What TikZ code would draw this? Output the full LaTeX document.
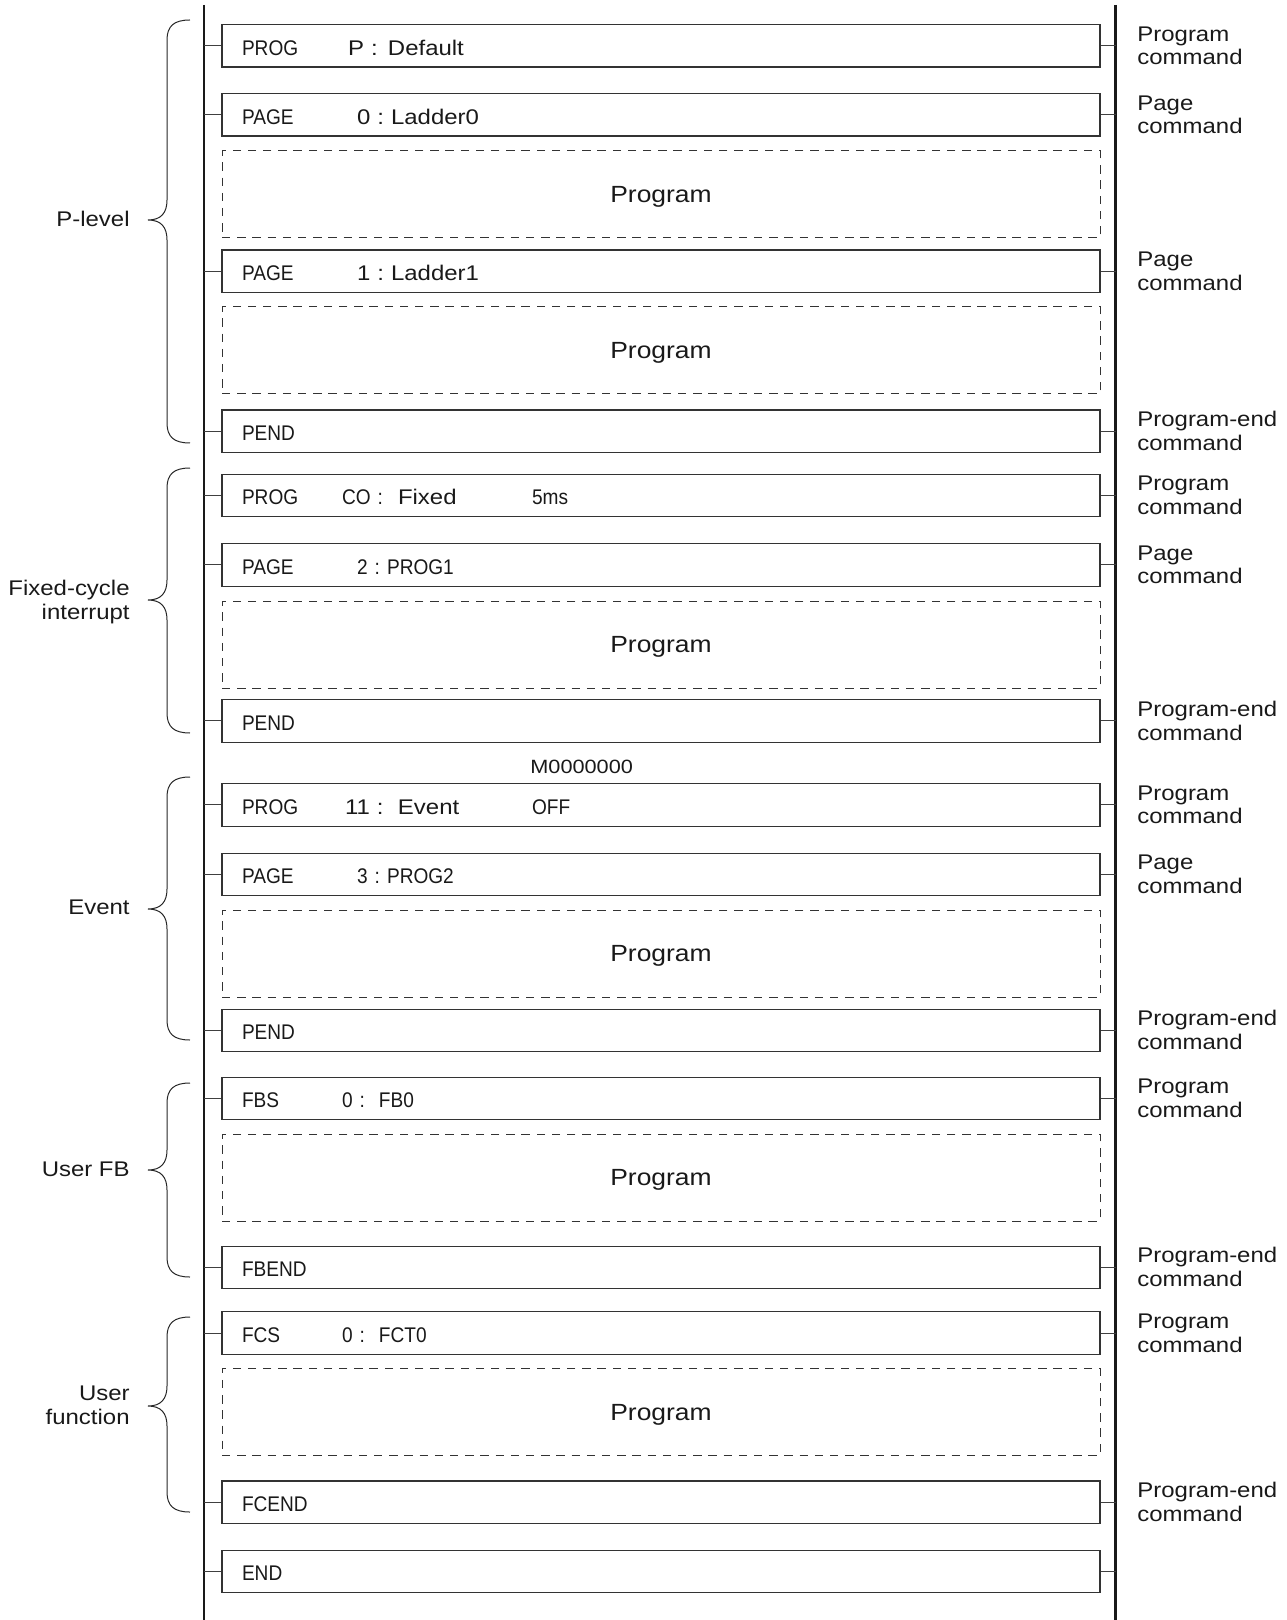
\documentclass[tikz,border=0pt]{standalone}
\usepackage{fontspec}
\setmainfont[FakeStretch=1.13]{Liberation Sans}
\newfontfamily\narrowfont[FakeStretch=0.9]{Liberation Sans}
\newcommand{\nw}[1]{{\narrowfont\fontsize{10.6}{12}\selectfont #1}}
\newcommand{\boxcol}[2]{\makebox[#1][l]{#2}}
\frenchspacing
% curly brace: top end, tip, bottom end (y in px)
\newcommand{\grpbrace}[3]{%
  \draw[bracestyle] (190,#1) .. controls (174,#1) and (167,#1+6) .. (167,#1+20)
    -- (167,#2-20) .. controls (167,#2-7) and (161,#2) .. (148,#2)
    .. controls (161,#2) and (167,#2+7) .. (167,#2+20)
    -- (167,#3-20) .. controls (167,#3-6) and (174,#3) .. (190,#3);}

\begin{document}
\begin{tikzpicture}[x=0.5pt, y=-0.5pt,
    every node/.style={font=\fontsize{10.6}{11.9}\selectfont, text=black!90},
    cmdbox/.style={draw=black!80, line width=0.55pt, text width=419pt, inner xsep=10pt,
      align=left, minimum height=21.25pt, text height=9.4pt, text depth=0pt},
    progbox/.style={draw=black!80, line width=0.5pt, dash pattern=on 4.2pt off 3.4pt,
      minimum width=439pt, minimum height=43.5pt, font=\fontsize{11.7}{14}\selectfont,
      text height=8.4pt, text depth=0pt},
    cmdlabel/.style={anchor=west, align=left, inner sep=0pt},
    grplabel/.style={anchor=east, align=right, inner sep=0pt},
    rail/.style={line width=1.3pt, black!90},
    stub/.style={line width=0.5pt, black!75},
    bracestyle/.style={line width=0.5pt, black!85}]
    \useasboundingbox (0,0) rectangle (1286,1620);

    % rails
    \draw[rail] (204,5) coordinate (railL) -- (204,1620);
    \draw[rail] (1115.5,5) coordinate (railR) -- (1115.5,1620);

    % P-level
    \node[cmdbox] (prog1) at (661,45.8) {\boxcol{53pt}{\nw{PROG}}\boxcol{20pt}{P :}Default};
    \node[cmdbox] (page0) at (661,114.8) {\boxcol{57.5pt}{\nw{PAGE}}0 : Ladder0};
    \node[progbox] (prg1) at (661,194.5) {Program};
    \node[cmdbox] (page1) at (661,271.3) {\boxcol{57.5pt}{\nw{PAGE}}1 : Ladder1};
    \node[progbox] (prg2) at (661,350.5) {Program};
    \node[cmdbox] (pend1) at (661,431.3) {\nw{PEND}};

    % fixed-cycle interrupt
    \node[cmdbox] (prog2) at (661,495.3) {\boxcol{50pt}{\nw{PROG}}\boxcol{28pt}{\nw{CO :}}\boxcol{67pt}{Fixed}\nw{5ms}};
    \node[cmdbox] (page2) at (661,564.8) {\boxcol{57.5pt}{\nw{PAGE}}\nw{2 : PROG1}};
    \node[progbox] (prg3) at (661,644.5) {Program};
    \node[cmdbox] (pend2) at (661,720.8) {\nw{PEND}};

    % event
    \node[anchor=base west, inner sep=0pt, font=\fontsize{9.6}{11}\selectfont] (evbit) at (530,773) {M0000000};
    \node[cmdbox] (prog3) at (661,804.8) {\boxcol{51.5pt}{\nw{PROG}}\boxcol{26.5pt}{11 :}\boxcol{67pt}{Event}\nw{OFF}};
    \node[cmdbox] (page3) at (661,874.3) {\boxcol{57.5pt}{\nw{PAGE}}\nw{3 : PROG2}};
    \node[progbox] (prg4) at (661,953.5) {Program};
    \node[cmdbox] (pend3) at (661,1030.3) {\nw{PEND}};

    % user FB
    \node[cmdbox] (fbs) at (661,1098.3) {\boxcol{50pt}{\nw{FBS}}\boxcol{18.5pt}{\nw{0 :}}\nw{FB0}};
    \node[progbox] (prg5) at (661,1177.5) {Program};
    \node[cmdbox] (fbend) at (661,1267.3) {\nw{FBEND}};

    % user function
    \node[cmdbox] (fcs) at (661,1333) {\boxcol{50pt}{\nw{FCS}}\boxcol{18.5pt}{\nw{0 :}}\nw{FCT0}};
    \node[progbox] (prg6) at (661,1412) {Program};
    \node[cmdbox] (fcend) at (661,1502.2) {\nw{FCEND}};
    \node[cmdbox] (endcmd) at (661,1571.3) {\nw{END}};

    % stubs to the rails
    \draw[stub] (railL |- prog1.west) -- (prog1.west) (prog1.east) -- (railR |- prog1.east);
    \draw[stub] (railL |- page0.west) -- (page0.west) (page0.east) -- (railR |- page0.east);
    \draw[stub] (railL |- page1.west) -- (page1.west) (page1.east) -- (railR |- page1.east);
    \draw[stub] (railL |- pend1.west) -- (pend1.west) (pend1.east) -- (railR |- pend1.east);
    \draw[stub] (railL |- prog2.west) -- (prog2.west) (prog2.east) -- (railR |- prog2.east);
    \draw[stub] (railL |- page2.west) -- (page2.west) (page2.east) -- (railR |- page2.east);
    \draw[stub] (railL |- pend2.west) -- (pend2.west) (pend2.east) -- (railR |- pend2.east);
    \draw[stub] (railL |- prog3.west) -- (prog3.west) (prog3.east) -- (railR |- prog3.east);
    \draw[stub] (railL |- page3.west) -- (page3.west) (page3.east) -- (railR |- page3.east);
    \draw[stub] (railL |- pend3.west) -- (pend3.west) (pend3.east) -- (railR |- pend3.east);
    \draw[stub] (railL |- fbs.west) -- (fbs.west) (fbs.east) -- (railR |- fbs.east);
    \draw[stub] (railL |- fbend.west) -- (fbend.west) (fbend.east) -- (railR |- fbend.east);
    \draw[stub] (railL |- fcs.west) -- (fcs.west) (fcs.east) -- (railR |- fcs.east);
    \draw[stub] (railL |- fcend.west) -- (fcend.west) (fcend.east) -- (railR |- fcend.east);
    \draw[stub] (railL |- endcmd.west) -- (endcmd.west) (endcmd.east) -- (railR |- endcmd.east);

    % right-hand labels
    \node[cmdlabel] (lb1) at (1137,45.8) {Program\\command};
    \node[cmdlabel] (lb2) at (1137,114.8) {Page\\command};
    \node[cmdlabel] (lb3) at (1137,271.3) {Page\\command};
    \node[cmdlabel] (lb4) at (1137,431.3) {Program-end\\command};
    \node[cmdlabel] (lb5) at (1137,495.3) {Program\\command};
    \node[cmdlabel] (lb6) at (1137,564.8) {Page\\command};
    \node[cmdlabel] (lb7) at (1137,720.8) {Program-end\\command};
    \node[cmdlabel] (lb8) at (1137,804.8) {Program\\command};
    \node[cmdlabel] (lb9) at (1137,874.3) {Page\\command};
    \node[cmdlabel] (lb10) at (1137,1030.3) {Program-end\\command};
    \node[cmdlabel] (lb11) at (1137,1098.3) {Program\\command};
    \node[cmdlabel] (lb12) at (1137,1267.3) {Program-end\\command};
    \node[cmdlabel] (lb13) at (1137,1333) {Program\\command};
    \node[cmdlabel] (lb14) at (1137,1502.2) {Program-end\\command};

    % groups on the left
    \node[grplabel] (grp1) at (130,219) {P-level};
    \node[grplabel] (grp2) at (130,602) {Fixed-cycle\\interrupt};
    \node[grplabel] (grp3) at (130,907) {Event};
    \node[grplabel] (grp4) at (130,1169) {User FB};
    \node[grplabel] (grp5) at (130,1405) {User\\function};
    \grpbrace{20}{220}{443}
    \grpbrace{468}{600}{733}
    \grpbrace{777}{909}{1040}
    \grpbrace{1083}{1170}{1277}
    \grpbrace{1317}{1406}{1512}
\end{tikzpicture}
\end{document}
